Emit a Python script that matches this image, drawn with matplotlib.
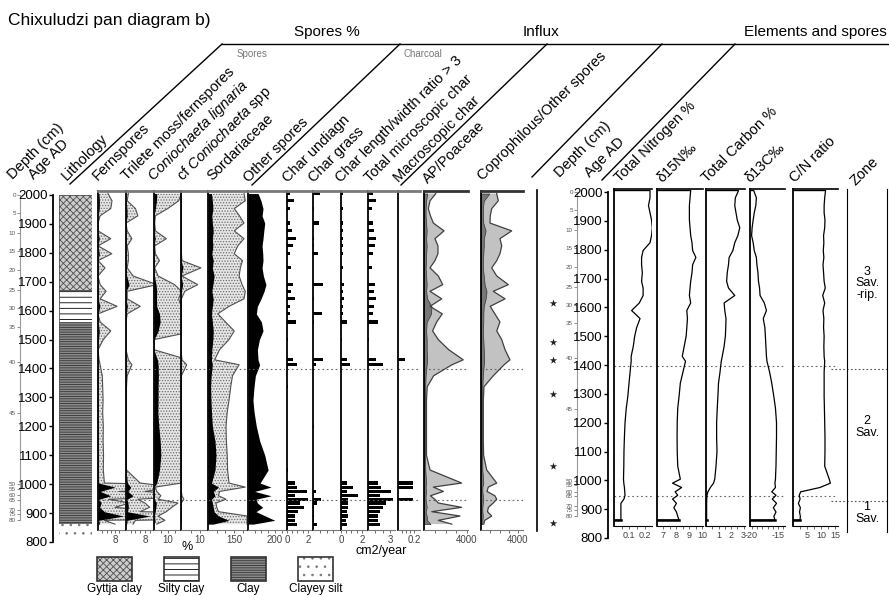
import numpy as np
import matplotlib
matplotlib.use('Agg')
import matplotlib.pyplot as plt
from matplotlib.patches import Rectangle

plt.rcParams['font.family'] = ['Liberation Sans', 'DejaVu Sans']
plt.rcParams['mathtext.fontset'] = 'custom'
plt.rcParams['mathtext.rm'] = 'Liberation Sans'
plt.rcParams['mathtext.it'] = 'Liberation Sans:italic'
plt.rcParams['hatch.linewidth'] = 0.6
plt.rcParams['axes.unicode_minus'] = False

# sample ages (AD), top to bottom
ages = np.array([2005, 1980, 1953, 1928, 1903, 1876, 1849, 1824, 1797, 1773,
                 1748, 1720, 1690, 1667, 1641, 1615, 1589, 1561, 1530, 1500,
                 1465, 1430, 1413, 1375, 1337, 1290, 1250, 1200, 1150, 1100,
                 1049, 1004, 990, 975, 960, 948, 935, 920, 905, 890, 875, 862])

# spores %
fernspores = [0.47, 0.66, 0.6, 0.1, 0, 0, 0.6, 0, 0.65, 0, 0.33, 0, 0.1, 0.38,
              0.1, 0.9, 0, 0.1, 0.6, 0.25, 0, 0.05, 0.1, 0.2, 0.22, 0.24, 0.22,
              0.25, 0.24, 0.26, 0.25, 0.3, 8, 1.0, 6, 0.5, 1.5, 0.8, 3, 12, 0.3, 0.8]
trilete = [0.1, 0.05, 0.4, 0.5, 0, 0.05, 0.25, 0.05, 0.1, 0.1, 0.05, 0.3, 1.3,
           0.05, 0.05, 0.6, 0.05, 0, 0, 0, 0, 0.1, 0.25, 0.05, 0.02, 0.02, 0.02,
           0.02, 0.02, 0.02, 0.02, 0.6, 2.0, 0.8, 3, 0.5, 0.8, 1, 0.6, 10, 0.4, 0.3]
con_lignaria = [2.0, 1.8, 1.0, 0.1, 0.05, 0.1, 0.9, 0.05, 0.1, 0.4, 0.05, 0.3,
                1.5, 2.0, 1.8, 2.0, 4.0, 4.5, 3.0, 0, 0, 2.5, 3.0, 3.2, 3.0, 3.0,
                2.8, 3.5, 4.5, 5.0, 4.0, 2.0, 0.1, 0.2, 0.5, 0.3, 1.75, 1.3, 0.9,
                0.3, 0.8, 0.2]
cf_coniochaeta = [0.02, 0.02, 0.02, 0.02, 0.02, 0.02, 0.02, 0.02, 0.02, 0.05,
                  1.05, 0.05, 0.88, 0.2, 0.02, 0.02, 0.02, 0.02, 0.02, 0, 0, 0.05,
                  0.3, 0.02, 0.02, 0.02, 0.02, 0.02, 0.02, 0.02, 0.02, 0.02, 0.02,
                  0.02, 0.05, 0.15, 0.02, 0.02, 0.02, 0.02, 0.02, 0.02]
sordariaceae = [206, 213, 150, 180, 206, 150, 206, 170, 150, 197, 185, 178, 195,
                213, 206, 120, 56, 100, 150, 120, 66, 38, 178, 140, 130, 120, 110,
                103, 105, 110, 112, 120, 213, 66, 60, 103, 45, 50, 60, 223, 223, 223]
sord_black = [20, 25, 28, 22, 25, 30, 25, 28, 22, 30, 25, 35, 28, 22, 30, 25, 20,
              25, 30, 28, 22, 20, 25, 18, 15, 17, 20, 25, 40, 46, 40, 20, 60, 30,
              40, 20, 25, 30, 35, 60, 120, 30]
other_spores = [75, 97, 112, 105, 125, 118, 112, 105, 110, 112, 105, 115, 134,
                120, 97, 70, 62, 100, 112, 85, 70, 75, 87, 55, 45, 37, 45, 62, 87,
                125, 150, 90, 172, 50, 172, 60, 70, 110, 60, 130, 200, 40]

# charcoal
char_undiagn = [0.32, 0.7, 0.32, 0, 0.32, 0.48, 0.9, 0.57, 0.32, 0, 0.38, 0, 0.57,
                0.4, 0.8, 0.32, 0.32, 0.9, 0, 0.05, 0, 0.57, 0.95, 0, 0.05, 0, 0,
                0, 0, 0, 0.05, 0.8, 1.0, 1.9, 0.8, 2.0, 1.2, 1.6, 1.1, 0.8, 0.8, 1.0]
char_grass = [0.25, 0, 0.03, 0, 0.22, 0, 0.03, 0.03, 0.19, 0, 0, 0, 0.37, 0, 0.05,
              0, 0.34, 0.03, 0, 0, 0, 0.37, 0.1, 0, 0, 0, 0, 0.03, 0, 0, 0, 0, 0,
              0.1, 0.05, 0.31, 0.15, 0.05, 0.04, 0.04, 0.04, 0.15]
char_lw = [0.22, 0, 0.22, 0, 0.22, 0.15, 0.15, 0.22, 0.15, 0, 0.15, 0, 0.27, 0.22,
           0.27, 0.15, 0.22, 0.54, 0, 0.1, 0, 0.54, 0.86, 0, 0.03, 0, 0, 0, 0, 0,
           0.03, 0.54, 1.17, 0.54, 1.65, 0.7, 0.7, 0.7, 0.54, 0.7, 0.5, 0.6]
char_total = [0.68, 1.1, 0.55, 0, 0.68, 0.82, 1.1, 0.9, 0.68, 0, 0.55, 0, 0.9,
              0.8, 1.1, 0.8, 0.68, 1.37, 0, 0.2, 0, 1.1, 2.0, 0, 0.05, 0, 0, 0, 0,
              0, 0.05, 1.37, 1.8, 3.2, 1.6, 3.4, 2.5, 2.0, 1.6, 1.37, 1.4, 1.6]
char_macro = [0, 0, 0, 0, 0, 0, 0, 0, 0, 0, 0, 0, 0, 0, 0, 0, 0, 0, 0, 0, 0, 0.09,
              0, 0, 0, 0, 0, 0, 0, 0, 0, 0.19, 0.19, 0, 0, 0.19, 0, 0, 0, 0, 0, 0]

# influx
ap_poaceae = [1100, 560, 400, 600, 870, 1860, 1020, 1300, 1300, 1020, 560, 1330,
              1740, 560, 1650, 560, 1700, 1180, 800, 1330, 2300, 3650, 2600, 900,
              300, 230, 230, 230, 230, 230, 560, 3500, 870, 1800, 600, 1000, 1330,
              3500, 720, 3350, 1330, 2580]
ap_inner = [300, 200, 150, 150, 200, 250, 200, 250, 200, 200, 150, 200, 250, 200,
            300, 700, 650, 250, 200, 250, 250, 300, 250, 150, 120, 100, 100, 100,
            100, 100, 120, 200, 150, 200, 150, 150, 200, 250, 150, 250, 300, 600]
coprophilous = [1700, 1870, 1160, 1000, 970, 3320, 2050, 2240, 2050, 1700, 1160,
                1700, 2950, 1330, 2600, 1000, 1500, 2050, 1700, 2240, 2600, 3130,
                2500, 1330, 320, 250, 250, 250, 250, 280, 620, 1700, 790, 650,
                1500, 1700, 1330, 800, 700, 1160, 400, 300]
copro_inner = [900, 300, 200, 200, 250, 500, 300, 300, 250, 200, 200, 300, 400,
               600, 500, 300, 250, 250, 200, 250, 300, 350, 300, 200, 150, 130,
               130, 130, 130, 130, 150, 250, 150, 150, 200, 250, 200, 150, 150,
               200, 150, 150]

# elements
total_n = [0.235, 0.235, 0.225, 0.235, 0.245, 0.25, 0.245, 0.235, 0.19, 0.18,
           0.18, 0.185, 0.18, 0.19, 0.19, 0.165, 0.115, 0.17, 0.148, 0.135,
           0.126, 0.112, 0.112, 0.105, 0.098, 0.09, 0.08, 0.072, 0.068, 0.065,
           0.064, 0.062, 0.064, 0.068, 0.07, 0.072, 0.065, 0.045, 0.045, 0.045,
           0.045, 0.045]
d15n = [9.1, 9.05, 9.0, 9.0, 9.0, 9.05, 9.1, 9.2, 9.25, 9.5, 9.25, 9.2, 9.1, 9.05,
        9.0, 9.1, 8.8, 8.85, 8.8, 8.75, 8.6, 8.45, 8.7, 8.5, 8.3, 8.2, 8.1, 8.06,
        8.05, 8.06, 8.1, 8.3, 7.7, 8.4, 7.9, 8.1, 7.7, 8.0, 7.8, 8.0, 8.1, 8.2]
total_c = [2.6, 2.35, 2.3, 2.4, 2.5, 2.7, 2.55, 2.3, 2.15, 1.85, 1.8, 1.7, 1.65,
           1.8, 2.3, 1.45, 1.5, 1.6, 1.58, 1.55, 1.45, 1.3, 1.22, 1.12, 1.0, 0.95,
           0.9, 0.85, 0.85, 0.88, 0.8, 0.7, 0.6, 0.35, 0.15, 0.08, 0.06, 0.05,
           0.05, 0.05, 0.05, 0.05]
d13c = [-19.6, -19.1, -19.2, -19.5, -19.7, -19.9, -20.0, -19.7, -19.5, -19.1,
        -19.0, -18.8, -18.7, -18.5, -18.4, -17.6, -17.2, -17.8, -17.5, -17.4,
        -17.3, -17.2, -17.1, -16.6, -16.2, -15.8, -15.5, -15.3, -15.3, -15.35,
        -15.4, -15.5, -15.6, -15.5, -16.2, -15.4, -16.1, -15.3, -15.9, -15.4,
        -15.8, -15.6]
cn_ratio = [11.5, 11.2, 11.0, 11.0, 11.3, 11.2, 10.8, 10.9, 10.7, 10.9, 10.6,
            10.8, 11.0, 11.4, 10.5, 11.2, 10.6, 10.9, 10.8, 11.0, 10.9, 11.0, 11.2,
            11.0, 11.0, 11.0, 11.1, 11.2, 11.3, 11.3, 11.2, 12.8, 13.2, 9.5, 2.7,
            2.2, 2.5, 1.9, 2.6, 2.3, 2.6, 2.5]

# depth scale and dated levels
depth_cm = [0, 5, 10, 15, 20, 25, 30, 35, 40, 45, 50, 55, 60, 65, 70, 75, 80]
depth_age = [2000, 1938, 1869, 1806, 1741, 1672, 1609, 1544, 1423, 1247, 999,
             985, 961, 944, 910, 896, 875]
dated_ages = [1616, 1481, 1419, 1298, 1049, 852]

# lithology
litho_names = ['Gyttja clay', 'Silty clay', 'Clay', 'Clayey silt']
litho_top = [2000, 1671, 1562, 866]
litho_base = [1671, 1562, 866, 814]
litho_face = ['#cccccc', 'white', '#8c8c8c', 'white']
litho_hatch = ['xxxxx', '---', '-------', '..']
litho_edge = ['#505050', 'black', '#333333', '#777777']

zone_lines = [1398, 945]
zone_bounds = [1385, 928]
zone_names = ['3\nSav.\n-rip.', '2\nSav.', '1\nSav.']
zone_mid = [1684, 1185, 887]

W, H = 889, 596
fig = plt.figure(figsize=(W / 100, H / 100), dpi=100)


def add_ax(x0, x1, y0, y1):
    return fig.add_axes([x0 / W, 1 - y1 / H, (x1 - x0) / W, (y1 - y0) / H])


def age_at(py, side):
    if side == 'L':
        return 2000 - (py - 195) / 0.2892
    return 2000 - (py - 192) / 0.2883


def panel(x0, x1, side, xlim, ticks, labels=None, minor=None):
    top, bot = (191, 530) if side == 'L' else (189, 526)
    ax = add_ax(x0, x1, top, bot)
    ax.set_facecolor('none')
    ax.set_xlim(*xlim)
    ax.set_ylim(age_at(bot, side), age_at(top, side))
    ax.spines['right'].set_visible(False)
    ax.spines['left'].set_linewidth(1.3)
    if side == 'L':
        ax.spines['top'].set_color('#7a7a7a')
        ax.spines['top'].set_linewidth(2)
        ax.spines['bottom'].set_color('#7a7a7a')
    else:
        ax.spines['top'].set_linewidth(1.2)
    ax.spines['bottom'].set_linewidth(0.8)
    ax.set_yticks([])
    ax.set_xticks(ticks)
    if labels is not None:
        ax.set_xticklabels(labels)
    if minor is not None:
        ax.set_xticks(minor, minor=True)
    ax.tick_params(axis='x', which='both', length=2, width=0.6, color='#555555',
                   labelsize=7 if side == 'L' else 6.5, labelcolor='#444444',
                   pad=1.5)
    for z in zone_lines:
        ax.axhline(z, color='#666666', lw=0.8, ls=(0, (1.5, 2.5)))
    return ax


def exaggerated(ax, vals, factor=10):
    v = np.asarray(vals, dtype=float)
    ax.fill_betweenx(ages, 0, v * factor, facecolor='#e6e6e6', edgecolor='#6a6a6a',
                     hatch='......', lw=0)
    ax.plot(v * factor, ages, color='#505050', lw=0.8)
    ax.fill_betweenx(ages, 0, v, color='black', lw=0)


def age_axis(x, side):
    y0, y1 = (195, 542) if side == 'L' else (192, 538)
    ax = add_ax(x, x + 1, y0, y1)
    ax.set_facecolor('none')
    ax.set_ylim(800, 2000)
    for s in ['top', 'right', 'bottom']:
        ax.spines[s].set_visible(False)
    ax.spines['left'].set_linewidth(1.3)
    ax.set_xticks([])
    ax.set_yticks(range(800, 2001, 100))
    ax.tick_params(axis='y', length=3, width=1, labelsize=9.5, pad=1)
    return ax


def depth_axis(x, side):
    y0, y1 = (195, 542) if side == 'L' else (192, 538)
    ax = add_ax(x, x + 1, y0, y1)
    ax.set_facecolor('none')
    ax.set_ylim(800, 2000)
    for s in ['top', 'right', 'bottom']:
        ax.spines[s].set_visible(False)
    ax.spines['left'].set_color('#999999')
    ax.spines['left'].set_bounds(depth_age[-1], 2000)
    ax.set_xticks([])
    ax.set_yticks(depth_age)
    ax.set_yticklabels(depth_cm)
    ax.tick_params(axis='y', length=2, width=0.6, color='#777777',
                   labelsize=4.5, labelcolor='#555555', pad=1)
    return ax


# left block: depth, age, lithology
depth_axis(20, 'L')
age_axis(53, 'L')
ax_lith = add_ax(59, 92, 195, 542)
ax_lith.set_ylim(800, 2000)
ax_lith.set_xlim(0, 1)
ax_lith.axis('off')
for t, b, fc, ht, ec, nm in zip(litho_top, litho_base, litho_face, litho_hatch,
                                litho_edge, litho_names):
    ax_lith.fill_betweenx([b, t], 0, 1, facecolor=fc, edgecolor=ec, hatch=ht, lw=0)
    if nm != 'Clayey silt':
        ax_lith.plot([0, 1, 1, 0, 0], [b, b, t, t, b], color='#555555', lw=0.6)

# spores %
ax = panel(98, 125, 'L', (0, 12.7), [8], minor=[2, 4, 6, 10])
exaggerated(ax, fernspores)
ax = panel(126, 153, 'L', (0, 11.4), [8], minor=[2, 4, 6, 10])
exaggerated(ax, trilete)
ax = panel(154, 181, 'L', (0, 19.7), [10], minor=[5, 15])
exaggerated(ax, con_lignaria)
ax = panel(181, 208, 'L', (0, 14.2), [10], minor=[5])
exaggerated(ax, cf_coniochaeta)
ax = panel(208, 247, 'L', (0, 223), [150], minor=[50, 100, 200])
ax.fill_betweenx(ages, 0, sordariaceae, facecolor='#e6e6e6', edgecolor='#6a6a6a',
                 hatch='......', lw=0)
ax.plot(sordariaceae, ages, color='#505050', lw=0.8)
ax.fill_betweenx(ages, 0, sord_black, color='black', lw=0)
ax = panel(248, 285, 'L', (0, 276), [200], minor=[50, 100, 150, 250])
ax.fill_betweenx(ages, 0, other_spores, color='black', lw=0)

# charcoal influx
bar_h = 11
ax = panel(287, 312, 'L', (0, 2.4), [0, 2], minor=[0.5, 1, 1.5])
ax.barh(ages, char_undiagn, height=bar_h, color='black')
ax = panel(313, 340, 'L', (0, 1.0), [], minor=[0.25, 0.5, 0.75])
ax.barh(ages, char_grass, height=bar_h, color='black')
ax = panel(341, 367, 'L', (0, 2.5), [0, 2], minor=[0.5, 1, 1.5])
ax.barh(ages, char_lw, height=bar_h, color='black')
ax = panel(368, 395, 'L', (0, 3.7), [3], minor=[1, 2])
ax.barh(ages, char_total, height=bar_h, color='black')
ax = panel(398, 420, 'L', (0, 0.275), [0.2], minor=[0.05, 0.1, 0.15])
ax.barh(ages, char_macro, height=bar_h, color='black')

# pollen and spore influx
ax = panel(424, 468, 'L', (0, 4093), [4000], minor=[1000, 2000, 3000])
ax.fill_betweenx(ages, 0, ap_poaceae, facecolor='#c2c2c2', lw=0)
ax.plot(ap_poaceae, ages, color='#404040', lw=0.9)
ax.fill_betweenx(ages, 0, ap_inner, facecolor='#777777', edgecolor='#333333', lw=0.5)
ax.spines['top'].set_color('#333333')
ax = panel(481, 523, 'L', (0, 4540), [4000], minor=[1000, 2000, 3000])
ax.fill_betweenx(ages, 0, coprophilous, facecolor='#c2c2c2', lw=0)
ax.plot(coprophilous, ages, color='#404040', lw=0.9)
ax.fill_betweenx(ages, 0, copro_inner, facecolor='#777777', edgecolor='#333333', lw=0.5)
ax.spines['top'].set_color('#333333')

# right block: dated levels, depth, age
ax_star = add_ax(545, 561, 192, 538)
ax_star.set_ylim(800, 2000)
ax_star.set_xlim(0, 1)
ax_star.axis('off')
ax_star.scatter(np.full(len(dated_ages), 0.5), dated_ages, marker='*', s=32,
                color='#222222', lw=0)
depth_axis(577, 'R')
age_axis(608, 'R')


def element(x0, x1, xlim, ticks, vals, minor=None):
    ax = panel(x0, x1, 'R', xlim, ticks, minor=minor)
    base = xlim[0]
    ax.plot(np.r_[base, vals, base], np.r_[ages[0], ages, ages[-1]],
            color='black', lw=0.9)
    ax.plot([base, vals[-1]], [ages[-1], ages[-1]], color='black', lw=1.8)
    return ax


element(614, 652, (0, 0.248), [0.1, 0.2], total_n, minor=[0.05, 0.15])
element(657, 703, (6.5, 10.05), [7, 8, 9, 10], d15n, minor=[7.5, 8.5, 9.5])
element(706, 745, (0, 3.12), [1, 2, 3], total_c, minor=[0.5, 1.5, 2.5])
element(750, 785, (-20.3, -13.7), [-20, -15], d13c,
        minor=[-19, -18, -17, -16, -14])
element(793, 838, (0, 15.9), [5, 10, 15], cn_ratio, minor=[2.5, 7.5, 12.5])

# zones
ax_z = add_ax(847, 887, 189, 532)
ax_z.set_facecolor('none')
ax_z.set_xlim(0, 1)
ax_z.set_ylim(age_at(532, 'R'), age_at(189, 'R'))
ax_z.set_xticks([])
ax_z.set_yticks([])
ax_z.spines['top'].set_visible(False)
ax_z.spines['bottom'].set_visible(False)
for z in zone_bounds:
    ax_z.plot([-0.4, 1], [z, z], color='#555555', lw=0.8, ls=(0, (1.5, 2)),
              clip_on=False)
for nm, zm in zip(zone_names, zone_mid):
    ax_z.text(0.5, zm, nm, ha='center', va='center', fontsize=9, linespacing=0.95)

# headers, rotated names and legend
ov = fig.add_axes([0, 0, 1, 1])
ov.set_xlim(0, W)
ov.set_ylim(H, 0)
ov.axis('off')

ov.text(8, 21, 'Chixuludzi pan diagram b)', fontsize=12.5, va='center')
ov.text(327, 32, 'Spores %', fontsize=11, ha='center', va='center')
ov.text(541, 32, 'Influx', fontsize=11, ha='center', va='center')
ov.text(887, 32, 'Elements and spores', fontsize=11, ha='right', va='center')
ov.text(252, 54, 'Spores', fontsize=7, color='#777777', ha='center', va='center')
ov.text(403, 54, 'Charcoal', fontsize=7, color='#777777', ha='left', va='center')
ov.plot([222, 889], [44, 44], color='black', lw=1)
for (xa, ya), (xb, yb) in [((70, 184), (222, 44)), ((252, 185), (400, 44)),
                           ((401, 185), (547, 44)), ((532, 177), (662, 44)),
                           ((602, 180), (735, 44))]:
    ov.plot([xa, xb], [ya, yb], color='black', lw=1)
ov.plot([537, 537], [190, 531], color='black', lw=1.2)

names = [(13, 180, 'Depth (cm)', 'normal'), (34, 180, 'Age AD', 'normal'),
         (67, 181, 'Lithology', 'normal'), (98, 181, 'Fernspores', 'normal'),
         (127, 181, 'Trilete moss/fernspores', 'normal'),
         (154, 181, 'Coniochaeta lignaria', 'italic'),
         (182, 181, r'cf $\it{Coniochaeta}$ spp', 'normal'),
         (212, 181, 'Sordariaceae', 'normal'),
         (249, 183, 'Other spores', 'normal'), (288, 183, 'Char undiagn', 'normal'),
         (314, 183, 'Char grass', 'normal'),
         (341, 183, 'Char length/width ratio > 3', 'normal'),
         (370, 183, 'Total microscopic char', 'normal'),
         (399, 183, 'Macroscopic char', 'normal'),
         (428, 184, 'AP/Poaceae', 'normal'),
         (483, 181, 'Coprophilous/Other spores', 'normal'),
         (560, 178, 'Depth (cm)', 'normal'), (590, 178, 'Age AD', 'normal'),
         (620, 183, 'Total Nitrogen %', 'normal'), (662, 183, 'δ15N‰', 'normal'),
         (707, 183, 'Total Carbon %', 'normal'), (750, 183, 'δ13C‰', 'normal'),
         (795, 183, 'C/N ratio', 'normal'), (856, 186, 'Zone', 'normal')]
for x, y, s, st in names:
    ov.text(x, y, s, rotation=45, rotation_mode='anchor', ha='left', va='baseline',
            fontsize=10.5, style=st)

ov.text(187, 547, '%', fontsize=9, ha='center', va='center')
ov.text(381, 551, 'cm2/year', fontsize=9, ha='center', va='center')

legend_x = [97, 164, 231, 298]
for x, nm, fc, ht, ec in zip(legend_x, litho_names, litho_face, litho_hatch,
                             litho_edge):
    ov.add_patch(Rectangle((x, 557), 35, 24, facecolor=fc, edgecolor=ec, hatch=ht,
                           lw=0))
    ov.add_patch(Rectangle((x, 557), 35, 24, facecolor='none', edgecolor='#333333',
                           lw=1.2))
    ov.text(x + 17.5, 589, nm, fontsize=8.5, ha='center', va='center')

fig.savefig('out.png', dpi=100)
